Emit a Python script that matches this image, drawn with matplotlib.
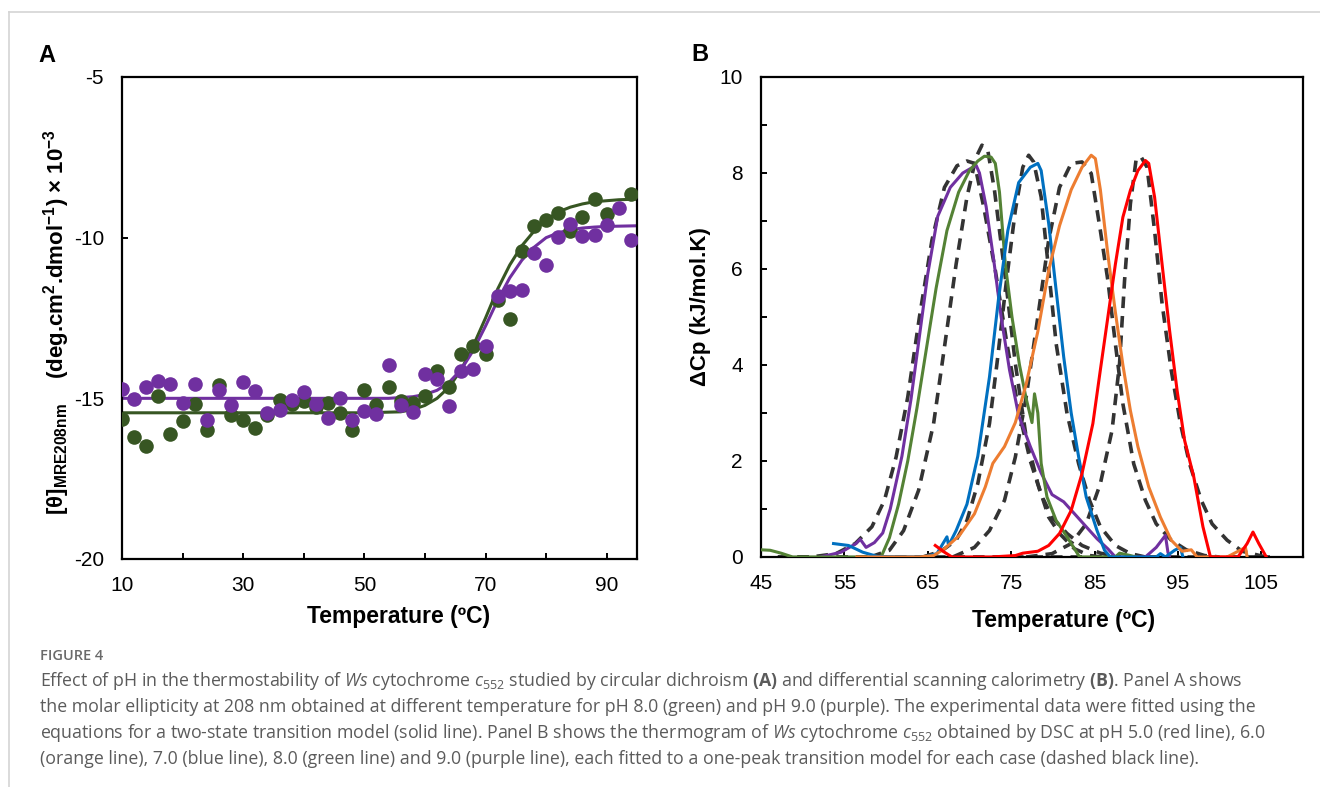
import numpy as np
import matplotlib
matplotlib.use("Agg")
import matplotlib.pyplot as plt
from matplotlib.lines import Line2D

plt.rcParams['font.family'] = 'Liberation Sans'
plt.rcParams['axes.unicode_minus'] = False
plt.rcParams['mathtext.fontset'] = 'custom'
plt.rcParams['mathtext.rm'] = 'Open Sans'
plt.rcParams['mathtext.it'] = 'Open Sans:italic'
plt.rcParams['mathtext.bf'] = 'Open Sans:bold'

# ---- panel A: CD data (pH 8.0 green, pH 9.0 purple) ----
temp_cd = [10, 12, 14, 16, 18, 20, 22, 24, 26, 28, 30, 32, 34, 36, 38, 40, 42, 44,
           46, 48, 50, 52, 54, 56, 58, 60, 62, 64, 66, 68, 70, 72, 74, 76, 78, 80,
           82, 84, 86, 88, 90, 92, 94]
ph9_pts = [-14.70, -15.03, -14.64, -14.45, -14.54, -15.15, -14.54, -15.67, -14.74,
           -15.22, -14.48, -14.77, -15.45, -15.35, -15.06, -14.81, -15.18, -15.61,
           -15.00, -15.67, -15.39, -15.48, -13.97, -15.22, -15.41, -14.23, -14.41,
           -15.25, -14.16, -14.08, -13.37, -11.80, -11.65, -11.63, -10.48, -10.86,
           -9.97, -9.58, -9.94, -9.93, -9.62, -9.09, -10.06]
temp_cd8 = temp_cd[:41] + [94]
ph8_pts = [-15.65, -16.19, -16.47, -14.92, -16.12, -15.70, -15.19, -15.97, -14.57,
           -15.52, -15.67, -15.93, -15.52, -15.05, -15.18, -15.09, -15.26, -15.13,
           -15.45, -15.99, -14.74, -15.22, -14.66, -15.09, -15.13, -14.92, -14.16,
           -14.64, -13.63, -13.37, -13.63, -11.95, -12.54, -10.41, -9.63, -9.45,
           -9.22, -9.80, -9.37, -8.81, -9.26, -8.64]

# two-state fit curves
fit8_t = [10, 50, 56, 58, 60, 62, 64, 66, 68, 70, 72, 74, 76, 78, 80, 82, 84, 86, 88, 90, 92, 95]
fit8_v = [-15.45, -15.45, -15.42, -15.35, -15.22, -15.0, -14.65, -14.1, -13.35, -12.5,
          -11.6, -10.85, -10.25, -9.8, -9.45, -9.2, -9.05, -8.95, -8.88, -8.85, -8.82, -8.8]
fit9_t = [10, 54, 58, 60, 62, 64, 66, 68, 70, 72, 74, 76, 78, 80, 82, 84, 86, 88, 90, 95]
fit9_v = [-15.0, -15.0, -14.95, -14.88, -14.75, -14.5, -14.1, -13.5, -12.75, -11.95,
          -11.25, -10.7, -10.3, -10.0, -9.85, -9.75, -9.7, -9.67, -9.65, -9.63]

# ---- panel B: DSC thermograms ----
red_t = [65.9, 67.0, 67.9, 72.6, 75.5, 76.4, 78.2, 79.5, 80.8, 82.2, 83.5, 84.8, 85.7,
         86.6, 87.5, 88.4, 89.3, 90.2, 91.1, 91.5, 92.2, 93.1, 94.0, 94.9, 95.8, 96.9,
         98.0, 98.9, 102.2, 103.3, 104.0, 104.7, 105.6]
red_v = [0.24, 0.10, 0.0, 0.0, 0.03, 0.08, 0.12, 0.24, 0.49, 0.97, 1.74, 2.78, 3.9,
         5.0, 6.1, 7.08, 7.64, 8.05, 8.26, 8.2, 7.5, 6.1, 4.72, 3.47, 2.43, 1.67,
         0.63, 0.0, 0.0, 0.28, 0.52, 0.28, 0.0]
orange_t = [56.5, 64.0, 65.7, 67.0, 68.8, 70.6, 71.9, 72.8, 74.2, 75.5, 76.8, 78.2, 79.5,
            80.8, 82.2, 83.5, 84.6, 85.1, 85.7, 86.6, 87.5, 88.4, 89.3, 90.2, 91.5, 92.9,
            94.2, 95.5, 96.6, 97.3, 100.9, 103.1, 103.3]
orange_v = [0.0, 0.0, 0.03, 0.17, 0.45, 0.9, 1.46, 1.95, 2.3, 2.8, 3.6, 4.7, 5.97,
            6.9, 7.65, 8.12, 8.37, 8.3, 7.65, 6.3, 5.1, 4.0, 3.05, 2.3, 1.46, 0.83,
            0.35, 0.12, 0.15, 0.0, 0.0, 0.2, 0.0]
blue_t = [53.7, 55.5, 57.2, 59.0, 64.5, 66.1, 67.3, 67.5, 68.4, 69.7, 71.0, 72.4, 73.5,
          74.6, 75.9, 77.3, 78.2, 78.6, 79.5, 80.4, 81.3, 82.2, 83.1, 84.0, 85.3, 86.2,
          86.9, 92.4, 92.9, 93.5, 94.6, 95.3, 95.6]
blue_v = [0.28, 0.24, 0.10, 0.01, 0.0, 0.07, 0.42, 0.24, 0.55, 1.1, 2.1, 3.75, 5.4,
          6.8, 7.8, 8.12, 8.2, 8.05, 6.95, 5.55, 4.17, 3.0, 2.08, 1.25, 0.55, 0.14,
          0.0, 0.0, 0.07, 0.0, 0.14, 0.2, 0.0]
green_t = [45.0, 46.1, 47.4, 48.8, 59.4, 60.4, 61.5, 62.6, 63.7, 64.8, 66.0, 67.3, 68.7,
           70.0, 71.0, 71.8, 72.6, 73.1, 73.6, 74.3, 75.1, 76.0, 76.8, 77.5, 77.8, 78.2,
           78.6, 79.3, 80.4, 81.7, 83.1, 83.3, 87.5, 88.0, 89.3, 90.0]
green_v = [0.15, 0.14, 0.08, 0.0, 0.0, 0.4, 1.1, 2.0, 3.1, 4.3, 5.6, 6.8, 7.6,
           8.05, 8.25, 8.35, 8.33, 8.2, 7.6, 6.1, 5.0, 4.0, 3.3, 2.8, 3.4, 3.0,
           1.95, 1.25, 0.76, 0.42, 0.03, 0.0, 0.0, 0.08, 0.03, 0.0]
purple_t = [52.1, 54.6, 56.4, 56.9, 57.6, 58.6, 59.6, 60.5, 61.9, 63.0, 64.0, 65.0, 66.2,
            67.7, 69.2, 70.8, 71.2, 72.0, 72.9, 73.8, 74.8, 75.9, 77.3, 78.6, 79.9, 81.3,
            82.6, 84.0, 85.3, 86.6, 87.5, 91.1, 92.4, 93.5, 93.8, 94.0]
purple_v = [0.0, 0.1, 0.28, 0.37, 0.2, 0.3, 0.5, 1.0, 2.1, 3.3, 4.6, 5.9, 7.1,
            7.7, 8.0, 8.16, 8.0, 7.3, 6.2, 5.0, 3.9, 2.95, 2.3, 1.75, 1.3, 1.15,
            0.9, 0.63, 0.38, 0.17, 0.0, 0.0, 0.2, 0.45, 0.1, 0.0]

# one-peak fits (dashed black)
fits = [
    ([47.0, 51.0, 54.0, 56.3, 58.3, 59.8, 61.2, 62.6, 64.0, 65.5, 67.0, 68.5, 69.7, 70.6,
      71.7, 73.1, 74.5, 75.9, 77.3, 78.6, 79.9, 81.7, 83.5, 85.7, 88.0],
     [0.0, 0.0, 0.07, 0.28, 0.63, 1.18, 2.08, 3.33, 5.0, 6.6, 7.7, 8.15, 8.25, 8.2,
      7.3, 5.97, 4.44, 3.05, 2.0, 1.3, 0.83, 0.49, 0.24, 0.08, 0.0]),
    ([58.1, 60.4, 62.1, 63.9, 65.7, 67.0, 68.4, 69.7, 70.8, 71.5, 72.2, 73.0, 74.2, 75.5,
      76.8, 78.2, 79.5, 80.8, 82.6, 84.4, 86.0],
     [0.0, 0.14, 0.55, 1.39, 2.78, 4.37, 6.1, 7.5, 8.33, 8.58, 8.47, 7.64, 5.97, 4.03,
      2.5, 1.53, 0.83, 0.49, 0.17, 0.03, 0.0]),
    ([64.4, 66.6, 68.4, 69.7, 71.0, 72.4, 73.3, 74.4, 75.5, 76.4, 77.1, 77.7, 78.6, 79.5,
      80.4, 81.7, 83.1, 84.4, 85.7, 87.5, 89.3, 91.1],
     [0.0, 0.12, 0.35, 0.76, 1.53, 2.78, 4.03, 5.7, 7.22, 8.12, 8.37, 8.23, 7.5, 5.97,
      4.44, 2.99, 1.94, 1.18, 0.63, 0.24, 0.07, 0.0]),
    ([68.0, 70.6, 72.4, 74.2, 75.5, 76.8, 78.2, 79.5, 80.8, 82.2, 83.5, 84.6, 85.7, 86.6,
      87.5, 88.4, 89.7, 91.1, 92.4, 94.2, 96.0, 98.2, 100.0],
     [0.0, 0.2, 0.55, 1.18, 2.08, 3.33, 5.0, 6.6, 7.7, 8.2, 8.23, 7.99, 6.8, 5.76,
      4.44, 3.19, 1.94, 1.18, 0.69, 0.35, 0.15, 0.03, 0.0]),
    ([76.8, 79.9, 82.2, 84.0, 85.7, 87.1, 88.0, 88.6, 89.3, 90.0, 90.6, 91.3, 92.2, 93.1,
      94.2, 95.3, 96.4, 97.8, 99.1, 100.9, 102.7, 105.3],
     [0.0, 0.07, 0.28, 0.69, 1.53, 2.64, 4.03, 5.76, 7.36, 8.3, 8.33, 8.12, 6.8, 5.28,
      3.89, 2.78, 1.94, 1.18, 0.69, 0.35, 0.12, 0.01]),
]

green_pts = '#375623'
purple_pts = '#7030A0'

fig = plt.figure(figsize=(13.2, 7.87), dpi=100)

# light frame of the figure page
fig.add_artist(Line2D([9/1320, 1], [1-12/787, 1-12/787], color='#d4d4d4', lw=1.2))
fig.add_artist(Line2D([9/1320, 9/1320], [0, 1-12/787], color='#d4d4d4', lw=1.2))

# ---------- panel A ----------
axA = fig.add_axes([122/1320, 1-559/787, 515/1320, 482/787])
axA.plot(fit8_t, fit8_v, color=green_pts, lw=2.2, zorder=2)
axA.plot(fit9_t, fit9_v, color=purple_pts, lw=2.2, zorder=2)
axA.plot(temp_cd8, ph8_pts, 'o', color=green_pts, ms=10.5, mec='none', zorder=3)
axA.plot(temp_cd, ph9_pts, 'o', color=purple_pts, ms=10.5, mec='none', zorder=4)
axA.set_xlim(10, 95)
axA.set_ylim(-20, -5)
axA.set_xticks([10, 30, 50, 70, 90])
axA.set_xticks([20, 40, 60, 80], minor=True)
axA.set_yticks([-20, -15, -10, -5])

axA.text(-0.146, 1.045, 'A', transform=axA.transAxes, fontsize=17, fontweight='bold',
         ha='center', va='center')
fig.text(399/1320, 1-617/787, 'Temperature (ºC)', fontsize=16.5, fontweight='bold',
         ha='center', va='center')
fig.text(57/1320, 1-322/787,
         r'[θ]$_\mathregular{MRE208nm}$    (deg.cm$^\mathregular{2}$.dmol$^\mathregular{-1}$) × 10$^\mathregular{-3}$',
         fontsize=16, fontweight='bold', rotation=90, ha='center', va='center')

# ---------- panel B ----------
axB = fig.add_axes([761/1320, 1-557/787, 542/1320, 480/787])
for ft, fv in fits:
    axB.plot(ft, fv, color='#333333', lw=2.6, ls=(0, (3.2, 2.2)), zorder=2)
axB.plot([47, 106], [0.0, 0.0], color='#333333', lw=2.6, ls=(0, (3.2, 2.2)), zorder=2)
axB.plot(purple_t, purple_v, color='#7030A0', lw=2.2, zorder=3)
axB.plot(green_t, green_v, color='#548235', lw=2.2, zorder=3)
axB.plot(blue_t, blue_v, color='#0070C0', lw=2.2, zorder=3)
axB.plot(orange_t, orange_v, color='#ED7D31', lw=2.2, zorder=3)
axB.plot(red_t, red_v, color='#FF0000', lw=2.2, zorder=3)
axB.set_xlim(45, 110)
axB.set_ylim(0, 10)
axB.set_xticks([45, 55, 65, 75, 85, 95, 105])
axB.set_yticks([0, 2, 4, 6, 8, 10])
axB.set_yticks([1, 3, 5, 7, 9], minor=True)

axB.text(-0.113, 1.046, 'B', transform=axB.transAxes, fontsize=17, fontweight='bold',
         ha='center', va='center')
fig.text(1064/1320, 1-620/787, 'Temperature (ºC)', fontsize=16.5, fontweight='bold',
         ha='center', va='center')
fig.text(701/1320, 1-307/787, 'ΔCp (kJ/mol.K)', fontsize=16, fontweight='bold',
         rotation=90, ha='center', va='center')

for ax in (axA, axB):
    for s in ax.spines.values():
        s.set_linewidth(1.6)
        s.set_color('black')
    ax.tick_params(which='both', direction='in', length=4, width=1.4, labelsize=15)
    ax.tick_params(axis='x', pad=12)
    ax.tick_params(axis='y', pad=13)

# ---------- caption ----------
cap_col = '#5b5b5b'
fig.text(40/1320, 1-656/787, 'FIGURE 4', fontsize=10.5, fontweight='semibold',
         family='Open Sans', color='#6a6a6a', va='center')
caption = [
    r'Effect of pH in the thermostability of $\mathit{Ws}$ cytochrome $\mathit{c}_\mathregular{552}$ studied by circular dichroism $\mathbf{(A)}$ and differential scanning calorimetry $\mathbf{(B)}$. Panel A shows',
    'the molar ellipticity at 208 nm obtained at different temperature for pH 8.0 (green) and pH 9.0 (purple). The experimental data were fitted using the',
    r'equations for a two-state transition model (solid line). Panel B shows the thermogram of $\mathit{Ws}$ cytochrome $\mathit{c}_\mathregular{552}$ obtained by DSC at pH 5.0 (red line), 6.0',
    '(orange line), 7.0 (blue line), 8.0 (green line) and 9.0 (purple line), each fitted to a one-peak transition model for each case (dashed black line).',
]
for i, line in enumerate(caption):
    fig.text(40/1320, 1-(681 + 26*i)/787, line, fontsize=12.8, family='Open Sans',
             color=cap_col, va='center')

fig.savefig('out.png', dpi=100)
